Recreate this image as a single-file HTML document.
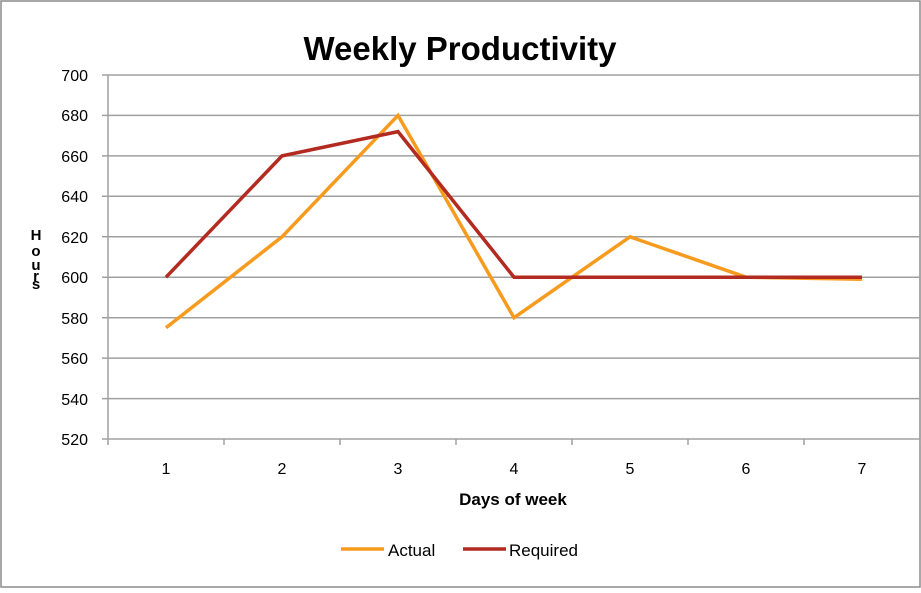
<!DOCTYPE html>
<html><head><style>
body{margin:0;background:#fff;}
svg text{font-family:"Liberation Sans",sans-serif;}
</style></head><body>
<svg width="921" height="588" viewBox="0 0 921 588" xmlns="http://www.w3.org/2000/svg">
<rect x="1" y="1" width="919" height="586" fill="#fff" stroke="#8c8c8c" stroke-width="1.5"/>
<text x="460" y="60" text-anchor="middle" font-size="33" font-weight="bold" fill="#000">Weekly Productivity</text>
<g stroke="#a0a0a0" stroke-width="1.5">
<line x1="102" y1="75" x2="920" y2="75"/>
<line x1="102" y1="115.4" x2="920" y2="115.4"/>
<line x1="102" y1="155.9" x2="920" y2="155.9"/>
<line x1="102" y1="196.3" x2="920" y2="196.3"/>
<line x1="102" y1="236.8" x2="920" y2="236.8"/>
<line x1="102" y1="277.2" x2="920" y2="277.2"/>
<line x1="102" y1="317.7" x2="920" y2="317.7"/>
<line x1="102" y1="358.1" x2="920" y2="358.1"/>
<line x1="102" y1="398.6" x2="920" y2="398.6"/>
<line x1="102" y1="439" x2="920" y2="439"/>
<line x1="108" y1="75" x2="108" y2="445"/>
<line x1="224" y1="439" x2="224" y2="445"/>
<line x1="340" y1="439" x2="340" y2="445"/>
<line x1="456" y1="439" x2="456" y2="445"/>
<line x1="572" y1="439" x2="572" y2="445"/>
<line x1="688" y1="439" x2="688" y2="445"/>
<line x1="804" y1="439" x2="804" y2="445"/>
<line x1="920" y1="439" x2="920" y2="445"/>
</g>
<g font-size="16" fill="#000" text-anchor="end">
<text x="88" y="81">700</text><text x="88" y="121">680</text><text x="88" y="162">660</text>
<text x="88" y="202">640</text><text x="88" y="243">620</text><text x="88" y="283">600</text>
<text x="88" y="324">580</text><text x="88" y="364">560</text><text x="88" y="405">540</text>
<text x="88" y="445">520</text>
</g>
<g font-size="16" fill="#000" text-anchor="middle">
<text x="166" y="474">1</text><text x="282" y="474">2</text><text x="398" y="474">3</text>
<text x="514" y="474">4</text><text x="630" y="474">5</text><text x="746" y="474">6</text>
<text x="862" y="474">7</text>
</g>
<text x="513" y="505" text-anchor="middle" font-size="17" font-weight="bold">Days of week</text>
<g font-size="15" font-weight="bold" text-anchor="middle">
<text x="36" y="240">H</text><text x="36" y="256">o</text><text x="36" y="270">u</text><text x="36" y="281">r</text><text x="36" y="289">s</text>
</g>
<polyline fill="none" stroke="#f79b1f" stroke-width="3.5" points="166,327.8 282,236.8 398,115.4 514,317.7 630,236.8 746,277.2 862,279.2"/>
<polyline fill="none" stroke="#b22a20" stroke-width="3.5" points="166,277.2 282,155.9 398,131.6 514,277.2 630,277.2 746,277.2 862,277.2"/>
<line x1="341" y1="549" x2="384" y2="549" stroke="#f79b1f" stroke-width="3.5"/>
<text x="388" y="556" font-size="17">Actual</text>
<line x1="463" y1="549" x2="506" y2="549" stroke="#b22a20" stroke-width="3.5"/>
<text x="509" y="556" font-size="17">Required</text>
</svg>
</body></html>
